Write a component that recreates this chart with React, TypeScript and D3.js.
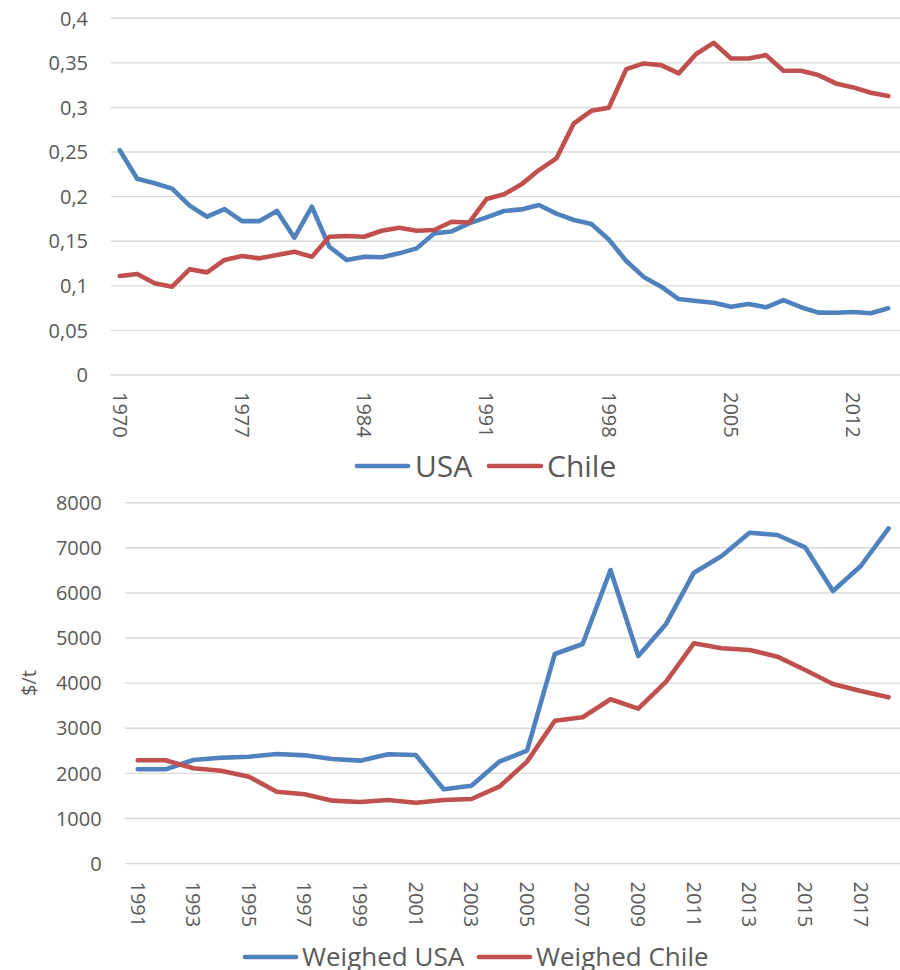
import React from "react";
import * as d3 from "d3";

const topYears: number[] = d3.range(1970, 2015);
const usaShare: number[] = [
  0.252, 0.22, 0.215, 0.209, 0.19, 0.1775, 0.186, 0.1726, 0.1726, 0.1839,
  0.154, 0.1887, 0.1438, 0.1289, 0.1326, 0.132, 0.1364, 0.142, 0.1588, 0.161,
  0.17, 0.1768, 0.1839, 0.1857, 0.1906, 0.181, 0.1738, 0.1693, 0.152, 0.1278,
  0.11, 0.099, 0.0852, 0.083, 0.081, 0.0766, 0.0796, 0.0759, 0.0841, 0.076,
  0.07, 0.0698, 0.0706, 0.0692, 0.0748,
];
const chileShare: number[] = [
  0.111, 0.1132, 0.1028, 0.099, 0.1185, 0.1151, 0.129, 0.1334, 0.1308, 0.1345,
  0.1382, 0.1326, 0.155, 0.1558, 0.155, 0.1618, 0.1651, 0.1618, 0.1626, 0.1719,
  0.171, 0.1973, 0.2026, 0.2138, 0.2298, 0.2429, 0.2822, 0.2963, 0.2997, 0.343,
  0.3494, 0.3475, 0.3382, 0.3599, 0.3725, 0.355, 0.355, 0.3587, 0.3411, 0.3411,
  0.3363, 0.327, 0.3225, 0.3165, 0.3128,
];
const topYTicks: number[] = [0, 0.05, 0.1, 0.15, 0.2, 0.25, 0.3, 0.35, 0.4];
const topXTicks: number[] = [1970, 1977, 1984, 1991, 1998, 2005, 2012];
const topLegend: string[] = ["USA", "Chile"];

const botYears: number[] = d3.range(1991, 2019);
const weighedUsa: number[] = [
  2090, 2090, 2297, 2348, 2370, 2430, 2400, 2319, 2282, 2423,
  2407, 1647, 1727, 2260, 2503, 4647, 4868, 6508, 4602, 5312,
  6449, 6819, 7335, 7284, 7012, 6043, 6597, 7432,
];
const weighedChile: number[] = [
  2290, 2290, 2112, 2060, 1927, 1594, 1536, 1395, 1366, 1410,
  1350, 1410, 1432, 1705, 2260, 3168, 3243, 3642, 3434, 4033,
  4884, 4773, 4735, 4587, 4292, 3981, 3826, 3686,
];
const botYTicks: number[] = [0, 1000, 2000, 3000, 4000, 5000, 6000, 7000, 8000];
const botXTicks: number[] = d3.range(1991, 2019, 2);
const botLegend: string[] = ["Weighed USA", "Weighed Chile"];
const botYLabel = "$/t";

const BLUE = "#4f81bd";
const RED = "#c0504d";
const GRID = "#d9d9d9";
const TEXT = "#595959";
const FONT = "'Open Sans', sans-serif";

export default function App() {
  // top chart scales
  const xTop = d3.scaleBand<number>().domain(topYears).range([111, 897]);
  const yTop = d3.scaleLinear().domain([0, 0.4]).range([375, 18.3]);
  const cxTop = (yr: number) => (xTop(yr) as number) + xTop.bandwidth() / 2;
  const lineTop = (vals: number[]) =>
    d3
      .line<number>()
      .x((_, i) => cxTop(topYears[i]))
      .y((v) => yTop(v))(vals) as string;

  // bottom chart scales
  const xBot = d3.scaleBand<number>().domain(botYears).range([123.8, 902.5]);
  const yBot = d3.scaleLinear().domain([0, 8000]).range([863.6, 502.7]);
  const cxBot = (yr: number) => (xBot(yr) as number) + xBot.bandwidth() / 2;
  const lineBot = (vals: number[]) =>
    d3
      .line<number>()
      .x((_, i) => cxBot(botYears[i]))
      .y((v) => yBot(v))(vals) as string;

  const lineStyle = {
    fill: "none",
    strokeWidth: 4.6,
    strokeLinejoin: "round" as const,
    strokeLinecap: "round" as const,
  };

  return (
    <svg
      width={900}
      height={970}
      style={{ position: "absolute", left: 0, top: 0, background: "#fff" }}
      fontFamily={FONT}
    >
      <rect x={0} y={0} width={900} height={970} fill="#fff" />
      {/* ---------- TOP CHART ---------- */}
      <g>
        {topYTicks.map((t) => (
          <g key={"tg" + t}>
            <line x1={111} x2={900} y1={yTop(t)} y2={yTop(t)} stroke={GRID} strokeWidth={1.4} />
            <text x={88} y={yTop(t)} dy="0.36em" textAnchor="end" fontSize={20} fill={TEXT}>
              {String(t).replace(".", ",")}
            </text>
          </g>
        ))}
        {topXTicks.map((yr) => (
          <text
            key={"tx" + yr}
            transform={`translate(${cxTop(yr)},392) rotate(90)`}
            dy="0.36em"
            textAnchor="start"
            fontSize={20}
            fill={TEXT}
          >
            {yr}
          </text>
        ))}
        <path d={lineTop(usaShare)} stroke={BLUE} {...lineStyle} />
        <path d={lineTop(chileShare)} stroke={RED} {...lineStyle} />
        {/* legend */}
        <line x1={357} x2={408} y1={466} y2={466} stroke={BLUE} {...lineStyle} />
        <text x={415} y={476.5} fontSize={30} fill={TEXT}>{topLegend[0]}</text>
        <line x1={489} x2={541} y1={466} y2={466} stroke={RED} {...lineStyle} />
        <text x={547} y={476.5} fontSize={30} fill={TEXT}>{topLegend[1]}</text>
      </g>

      {/* ---------- BOTTOM CHART ---------- */}
      <g>
        {botYTicks.map((t) => (
          <g key={"bg" + t}>
            <line x1={125} x2={900} y1={yBot(t)} y2={yBot(t)} stroke={GRID} strokeWidth={1.4} />
            <text x={101.7} y={yBot(t)} dy="0.36em" textAnchor="end" fontSize={20} fill={TEXT}>
              {t}
            </text>
          </g>
        ))}
        <text
          transform={`translate(29,683) rotate(-90)`}
          dy="0.36em"
          textAnchor="middle"
          fontSize={20}
          fill={TEXT}
        >
          {botYLabel}
        </text>
        {botXTicks.map((yr) => (
          <text
            key={"bx" + yr}
            transform={`translate(${cxBot(yr)},881.5) rotate(90)`}
            dy="0.36em"
            textAnchor="start"
            fontSize={20}
            fill={TEXT}
          >
            {yr}
          </text>
        ))}
        <path d={lineBot(weighedUsa)} stroke={BLUE} {...lineStyle} />
        <path d={lineBot(weighedChile)} stroke={RED} {...lineStyle} />
        {/* legend */}
        <line x1={245} x2={296} y1={957} y2={957} stroke={BLUE} {...lineStyle} />
        <text x={302} y={965.5} fontSize={26} fill={TEXT}>{botLegend[0]}</text>
        <line x1={479} x2={530} y1={957} y2={957} stroke={RED} {...lineStyle} />
        <text x={536} y={965.5} fontSize={26} fill={TEXT}>{botLegend[1]}</text>
      </g>
    </svg>
  );
}
